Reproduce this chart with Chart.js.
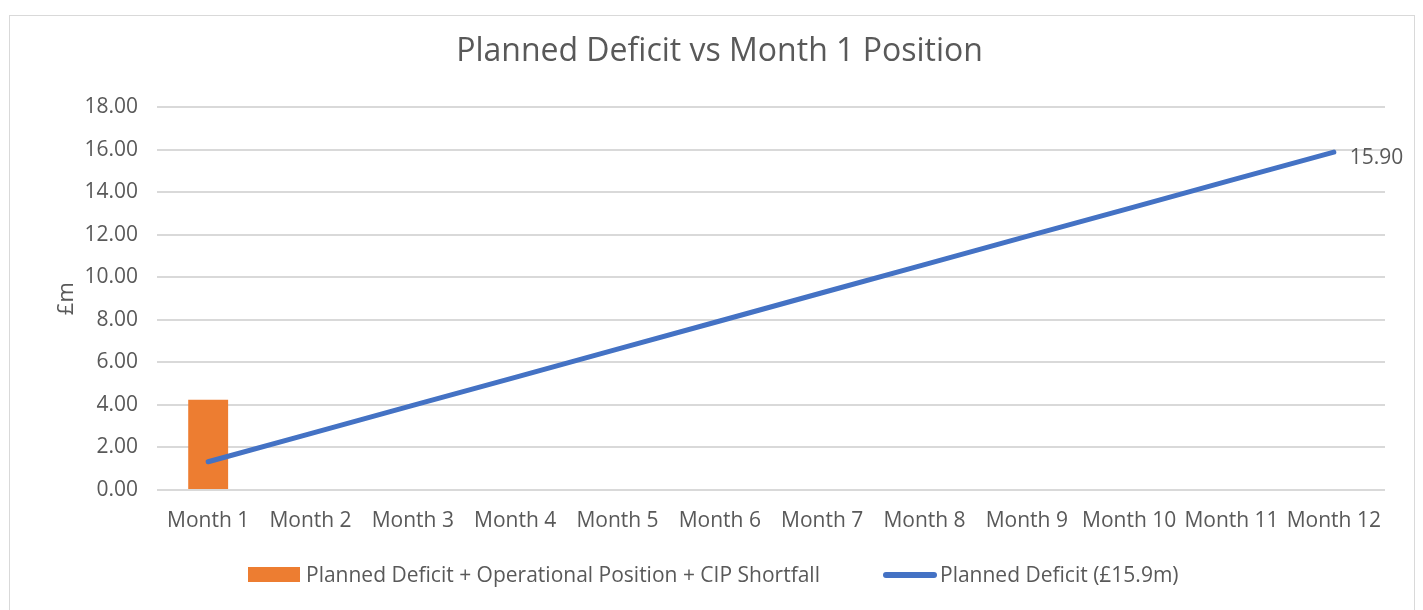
<!DOCTYPE html>
<html>
<head>
<meta charset="utf-8">
<script src="https://cdn.jsdelivr.net/npm/chart.js@4/dist/chart.umd.min.js"></script>
<style>
  html, body { margin: 0; padding: 0; background: #fff; }
  #wrap { position: relative; width: 1423px; height: 610px; overflow: hidden; }
  #frame { position: absolute; left: 9px; top: 15px; width: 1406px; height: 620px; border: 1px solid #d9d9d9; box-sizing: border-box; }
  canvas { position: absolute; left: 0; top: 0; }
  .lg { position: absolute; font-family: 'Open Sans', sans-serif; font-size: 21px; color: #595959; white-space: nowrap; line-height: 1; }
  .sw { position: absolute; }
</style>
</head>
<body>
<div id="wrap">
  <div id="frame"></div>
  <canvas id="c" width="1423" height="610"></canvas>
  <div class="sw" style="left:248px;top:567px;width:52px;height:15px;background:#ED7D31;"></div>
  <div class="lg" id="lg1" style="left:306px;top:564px;"></div>
  <div class="sw" style="left:883px;top:572px;width:54px;height:6px;border-radius:3px;background:#4472C4;"></div>
  <div class="lg" id="lg2" style="left:940px;top:564px;"></div>
</div>
<script>
const categories = ['Month 1','Month 2','Month 3','Month 4','Month 5','Month 6','Month 7','Month 8','Month 9','Month 10','Month 11','Month 12'];
const positionValues = [4.25, null, null, null, null, null, null, null, null, null, null, null];
const plannedValues = [1.33, 2.65, 3.98, 5.30, 6.63, 7.95, 9.28, 10.60, 11.93, 13.25, 14.58, 15.90];
const seriesNames = ['Planned Deficit + Operational Position + CIP Shortfall', 'Planned Deficit (£15.9m)'];
const titleText = 'Planned Deficit vs Month 1 Position';
const yAxisTitle = '£m';
const yTicks = { min: 0, max: 18, step: 2 };

document.getElementById('lg1').textContent = seriesNames[0];
document.getElementById('lg2').textContent = seriesNames[1];

const FONT = "'Open Sans', sans-serif";
const TXT = '#595959';

const lastLabel = {
  id: 'lastLabel',
  afterDatasetsDraw(chart) {
    const meta = chart.getDatasetMeta(1);
    const i = plannedValues.length - 1;
    const pt = meta.data[i];
    const ctx = chart.ctx;
    ctx.save();
    ctx.font = '21px ' + FONT;
    ctx.fillStyle = TXT;
    ctx.textAlign = 'left';
    ctx.textBaseline = 'middle';
    ctx.fillText(plannedValues[i].toFixed(2), pt.x + 16, pt.y + 6);
    ctx.restore();
  }
};

new Chart(document.getElementById('c'), {
  data: {
    labels: categories,
    datasets: [
      {
        type: 'bar',
        label: seriesNames[0],
        data: positionValues,
        backgroundColor: '#ED7D31',
        categoryPercentage: 1,
        barPercentage: 0.39,
        order: 2
      },
      {
        type: 'line',
        label: seriesNames[1],
        data: plannedValues,
        borderColor: '#4472C4',
        borderWidth: 5,
        borderCapStyle: 'round',
        pointRadius: 0,
        tension: 0,
        fill: false,
        order: 1
      }
    ]
  },
  options: {
    responsive: false,
    animation: false,
    devicePixelRatio: 1,
    layout: { padding: { left: 54, right: 38, top: 0, bottom: 60 } },
    plugins: {
      legend: { display: false },
      tooltip: { enabled: false },
      title: {
        display: true,
        text: titleText,
        color: TXT,
        font: { family: FONT, size: 32, weight: 'normal' },
        padding: { top: 33, bottom: 36 }
      }
    },
    scales: {
      x: {
        grid: { display: false, drawTicks: false },
        border: { display: false },
        ticks: {
          color: TXT,
          font: { family: FONT, size: 21 },
          padding: 18,
          maxRotation: 0,
          autoSkip: false
        },
        afterFit(s) { s.height = 60; }
      },
      y: {
        min: yTicks.min,
        max: yTicks.max,
        grid: { color: '#d9d9d9', lineWidth: 2, drawTicks: false },
        border: { display: false },
        ticks: {
          stepSize: yTicks.step,
          color: TXT,
          font: { family: FONT, size: 21 },
          padding: 19,
          callback: v => Number(v).toFixed(2)
        },
        title: {
          display: true,
          text: yAxisTitle,
          color: TXT,
          font: { family: FONT, size: 22 },
          padding: 0
        },
        afterFit(s) { s.width = 103; }
      }
    }
  },
  plugins: [lastLabel]
});
</script>
</body>
</html>
